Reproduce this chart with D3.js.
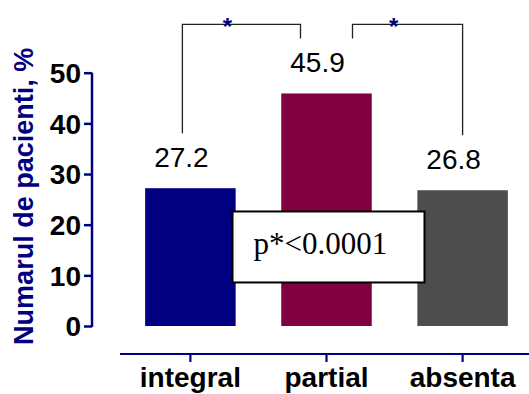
<!DOCTYPE html>
<html>
<head>
<meta charset="utf-8">
<script src="https://cdn.jsdelivr.net/npm/d3@7"></script>
<style>
  html, body { margin: 0; padding: 0; background: #fff; }
  svg { display: block; }
</style>
</head>
<body>
<svg id="chart" width="529" height="394"></svg>
<script>
// ---- data ----
const categories = ["integral", "partial", "absenta"];
const values = [27.2, 45.9, 26.8];
const barColors = ["#000080", "#800040", "#4d4d4d"];
const yTicks = [0, 10, 20, 30, 40, 50];
const yLabel = "Numarul de pacienti, %";
const comparisons = [["integral", "partial"], ["partial", "absenta"]];
const compMark = "*";
const pText = "p*<0.0001";

// ---- layout ----
const W = 529, H = 394;
const svg = d3.select("#chart");
const navy = "#000080";
const sans = "'Liberation Sans', Arial, sans-serif";
const serif = "'Liberation Serif', 'Times New Roman', serif";

const x = d3.scaleBand().domain(categories).range([122, 531]).paddingInner(0.335).paddingOuter(0.17);
const y = d3.scaleLinear().domain([0, 50]).range([326, 72.7]);
const cx = c => x(c) + x.bandwidth() / 2;

// bars
svg.append("g").selectAll("rect").data(categories).join("rect")
  .attr("x", d => x(d))
  .attr("y", (d, i) => y(values[i]))
  .attr("width", x.bandwidth())
  .attr("height", (d, i) => y(0) - y(values[i]))
  .attr("fill", (d, i) => barColors[i]);

// value labels
svg.append("g").selectAll("text").data(categories).join("text")
  .attr("x", d => cx(d) - 9)
  .attr("y", (d, i) => y(values[i]) - 21)
  .attr("text-anchor", "middle")
  .attr("font-family", sans)
  .attr("font-size", 28)
  .attr("fill", "#000")
  .text((d, i) => values[i].toFixed(1));

// y axis
const yAxis = d3.axisLeft(y).tickValues(yTicks).tickSize(8).tickPadding(3).tickFormat(d3.format("d"));
const gy = svg.append("g").attr("transform", "translate(92,0)").call(yAxis);
gy.select(".domain").attr("d", `M0,${y(50)}V${y(0) + 1}`).attr("stroke", navy).attr("stroke-width", 2.5);
gy.selectAll(".tick line").attr("stroke", navy).attr("stroke-width", 2.5);
gy.selectAll(".tick text").attr("font-family", sans).attr("font-weight", "bold")
  .attr("font-size", 28).attr("fill", "#000").attr("dy", "0.35em");

// x axis
const xAxis = d3.axisBottom(x).tickSize(8).tickPadding(5);
const gx = svg.append("g").attr("transform", "translate(0,354)").call(xAxis);
gx.select(".domain").attr("d", `M120,0H${W}`).attr("stroke", navy).attr("stroke-width", 2.2);
gx.selectAll(".tick line").attr("stroke", navy).attr("stroke-width", 2.2);
gx.selectAll(".tick text").attr("font-family", sans).attr("font-weight", "bold")
  .attr("font-size", 28).attr("fill", "#000").attr("dy", "0.71em");

// y label
svg.append("text")
  .attr("transform", `translate(33,${(y(0) + y(50)) / 2 - 3}) rotate(-90)`)
  .attr("text-anchor", "middle")
  .attr("font-family", sans)
  .attr("font-weight", "bold")
  .attr("font-size", 27)
  .attr("fill", navy)
  .text(yLabel);

// significance brackets
const topY = y(d3.max(values)) - 69;
const legGap = 26;
const mid = categories[d3.maxIndex(values)];
comparisons.forEach(([a, b]) => {
  const xa = cx(a) + (a === mid ? legGap : -8);
  const xb = cx(b) + (b === mid ? -legGap : 0);
  const ya = y(values[categories.indexOf(a)]) - 55;
  const yb = y(values[categories.indexOf(b)]) - 55;
  svg.append("path")
    .attr("d", `M${xa},${ya}V${topY}H${xb}V${yb}`)
    .attr("fill", "none").attr("stroke", "#222").attr("stroke-width", 1.3);
  svg.append("text")
    .attr("x", (xa + xb) / 2 - 14)
    .attr("y", topY + 11)
    .attr("text-anchor", "middle")
    .attr("font-family", sans)
    .attr("font-weight", "bold")
    .attr("font-size", 24)
    .attr("fill", navy)
    .text(compMark);
});

// p-value box
const boxCx = cx("partial") + 2, boxCy = y(15.6);
const boxW = 192, boxH = 71;
svg.append("rect")
  .attr("x", boxCx - boxW / 2).attr("y", boxCy - boxH / 2)
  .attr("width", boxW).attr("height", boxH)
  .attr("fill", "#fff").attr("stroke", "#000").attr("stroke-width", 2);
svg.append("text")
  .attr("x", boxCx - boxW / 2 + 21)
  .attr("y", boxCy + 7)
  .attr("font-family", serif)
  .attr("font-size", 31)
  .attr("fill", "#000")
  .text(pText);
</script>
</body>
</html>
